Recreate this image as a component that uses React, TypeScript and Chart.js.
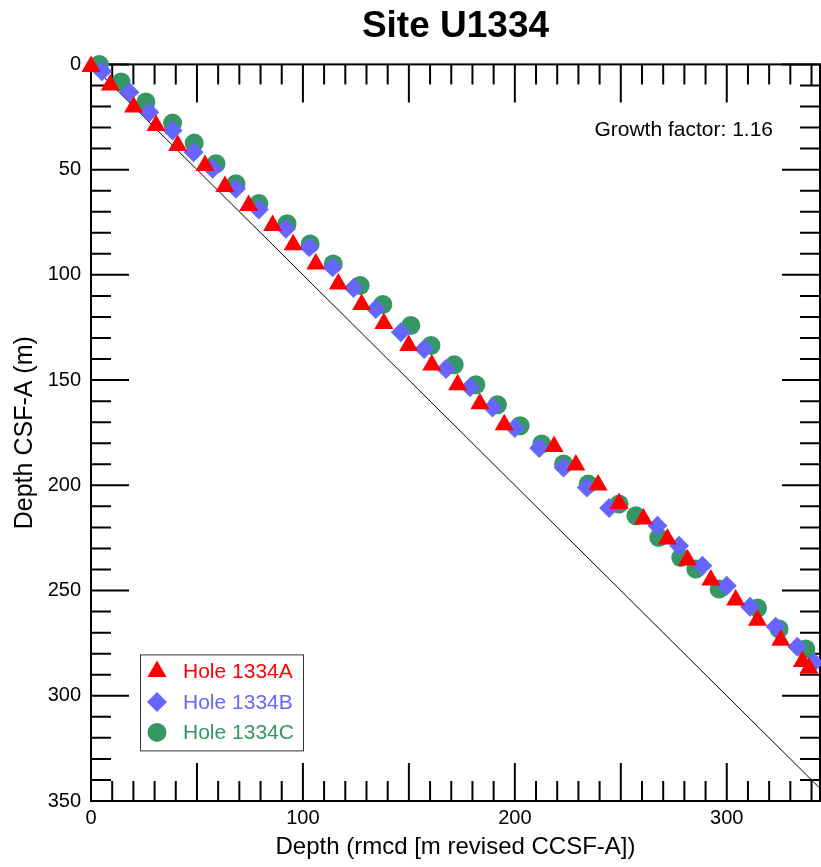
import React, { useEffect, useRef } from 'react';
import { Chart, registerables } from 'chart.js';
import { drawPoint } from 'chart.js/helpers';

Chart.register(...registerables);

const FONT = '"Liberation Sans", Arial, Helvetica, sans-serif';

const TITLE = 'Site U1334';
const X_TITLE = 'Depth (rmcd [m revised CCSF-A])';
const Y_TITLE = 'Depth CSF-A (m)';
const ANNOTATION = 'Growth factor: 1.16';

const SERIES_NAMES = ['Hole 1334A', 'Hole 1334B', 'Hole 1334C'];
const SERIES_COLORS = ['#ff0000', '#6666ff', '#349764'];

// Hole 1334A: revised composite depth (x) vs CSF-A depth (y)
const holeA_rmcd = [0, 9.1, 20.1, 30.7, 40.9, 53.8, 63.2, 74.4, 85.7, 95.4, 106.1, 116.7, 127.7, 138.2, 149.9, 160.8, 173.0, 183.5, 195.0, 218.5, 228.8, 239.3, 249.2, 260.7, 272.0, 281.5, 292.5, 304.2, 314.5, 325.5, 335.7, 338.8];
const holeA_csf = [1, 9.8, 20.3, 29.0, 38.5, 48.0, 58.0, 67.0, 76.6, 85.7, 94.8, 104.3, 114.1, 123.1, 133.6, 142.8, 152.2, 161.3, 171.2, 181.6, 190.3, 199.9, 208.6, 216.0, 225.5, 235.5, 245.0, 254.5, 264.1, 273.6, 283.7, 286.9];

// Hole 1334B
const holeB_rmcd = [5.2, 18.1, 27.5, 38.5, 48.4, 57.4, 68.4, 79.2, 92.0, 103.0, 114.0, 123.9, 134.4, 146.2, 157.2, 167.5, 178.9, 189.5, 200.0, 211.5, 223.0, 234.0, 244.5, 267.3, 277.5, 288.5, 300.0, 311.0, 323.1, 333.3, 341.2];
const holeB_csf = [3.3, 13.2, 22.7, 31.4, 41.7, 49.6, 59.1, 68.9, 78.1, 86.9, 96.4, 106.2, 116.2, 127.3, 135.2, 144.7, 153.4, 163.0, 172.8, 182.3, 191.5, 201.0, 210.8, 219.2, 228.7, 238.2, 247.7, 257.7, 267.2, 276.7, 284.2];

// Hole 1334C
const holeC_rmcd = [3.9, 14.2, 25.9, 38.5, 48.7, 59.0, 68.4, 79.2, 92.5, 103.4, 114.3, 127.0, 137.7, 150.9, 160.4, 171.4, 181.6, 191.8, 202.5, 212.7, 223.0, 234.6, 249.2, 257.1, 267.9, 278.3, 285.4, 296.4, 314.5, 324.7, 337.3];
const holeC_csf = [0, 8.4, 17.9, 27.9, 37.4, 47.2, 56.7, 66.1, 75.7, 85.3, 94.8, 105.1, 114.1, 124.1, 133.6, 142.7, 152.2, 161.7, 171.7, 180.4, 189.9, 199.4, 208.9, 214.5, 224.8, 234.3, 239.8, 249.3, 258.3, 268.3, 277.8];

// 1:1 reference line
const ONE_TO_ONE = [0, 350];

const X_MIN = 0;
const X_MAX = 344;
const Y_MIN = 0;
const Y_MAX = 350;
const X_LABEL_STEP = 100;
const Y_LABEL_STEP = 50;
const MINOR_STEP = 10;
const MAJOR_STEP = 50;

const pts = (xs: number[], ys: number[]) => xs.map((x, i) => ({ x, y: ys[i] }));

const frameTicksPlugin = {
  id: 'frameTicks',
  beforeDatasetsDraw(chart: any) {
    const { ctx, chartArea: a, scales } = chart;
    const xs = scales.x;
    const ys = scales.y;
    ctx.save();
    ctx.strokeStyle = '#000';
    ctx.lineWidth = 2;
    ctx.strokeRect(a.left, a.top, a.right - a.left, a.bottom - a.top);
    ctx.beginPath();
    for (let v = X_MIN; v <= X_MAX; v += MINOR_STEP) {
      const px = xs.getPixelForValue(v);
      const len = v % MAJOR_STEP === 0 ? 38 : 20;
      ctx.moveTo(px, a.top);
      ctx.lineTo(px, a.top + len);
      ctx.moveTo(px, a.bottom);
      ctx.lineTo(px, a.bottom - len);
    }
    for (let v = Y_MIN; v <= Y_MAX; v += MINOR_STEP) {
      const py = ys.getPixelForValue(v);
      const len = v % MAJOR_STEP === 0 ? 38 : 20;
      ctx.moveTo(a.left, py);
      ctx.lineTo(a.left + len, py);
      ctx.moveTo(a.right, py);
      ctx.lineTo(a.right - len, py);
    }
    ctx.stroke();
    ctx.restore();
  },
  afterDatasetsDraw(chart: any) {
    const { ctx, chartArea: a } = chart;
    ctx.save();
    // annotation
    ctx.font = `21px ${FONT}`;
    ctx.fillStyle = '#000';
    ctx.textAlign = 'right';
    ctx.textBaseline = 'middle';
    ctx.fillText(ANNOTATION, a.right - 47, a.top + 66);

    // legend box
    const bx = a.left + 49;
    const by = a.top + 590;
    const bw = 163;
    const bh = 96;
    ctx.fillStyle = '#fff';
    ctx.fillRect(bx, by, bw, bh);
    ctx.strokeStyle = '#333';
    ctx.lineWidth = 1;
    ctx.strokeRect(bx + 0.5, by + 0.5, bw, bh);
    const items = chart.data.datasets.slice(0, 3);
    items.forEach((ds: any, i: number) => {
      const cy = by + 17 + i * 30.5;
      ctx.fillStyle = ds.backgroundColor;
      drawPoint(ctx, { pointStyle: ds.pointStyle, radius: ds.pointRadius, rotation: 0, borderWidth: 0 }, bx + 17, cy);
      ctx.fillStyle = ds.backgroundColor;
      ctx.font = `21px ${FONT}`;
      ctx.textAlign = 'left';
      ctx.textBaseline = 'middle';
      ctx.fillText(ds.label, bx + 43, cy + 1);
    });
    ctx.restore();
  },
};

export default function App() {
  const ref = useRef<HTMLCanvasElement | null>(null);
  useEffect(() => {
    if (!ref.current) return;
    Chart.defaults.font.family = FONT;
    Chart.defaults.color = '#000';
    const chart = new Chart(ref.current, {
      type: 'scatter',
      data: {
        datasets: [
          {
            label: SERIES_NAMES[0],
            data: pts(holeA_rmcd, holeA_csf),
            pointStyle: 'triangle',
            pointRadius: 11,
            backgroundColor: SERIES_COLORS[0],
            borderWidth: 0,
            clip: false,
          } as any,
          {
            label: SERIES_NAMES[1],
            data: pts(holeB_rmcd, holeB_csf),
            pointStyle: 'rectRot',
            pointRadius: 10,
            backgroundColor: SERIES_COLORS[1],
            borderWidth: 0,
            clip: false,
          },
          {
            label: SERIES_NAMES[2],
            data: pts(holeC_rmcd, holeC_csf),
            pointStyle: 'circle',
            pointRadius: 9.5,
            backgroundColor: SERIES_COLORS[2],
            borderWidth: 0,
            clip: false,
          },
          {
            label: '1:1',
            data: pts(ONE_TO_ONE, ONE_TO_ONE),
            showLine: true,
            borderColor: '#000',
            borderWidth: 1,
            pointRadius: 0,
            clip: 0,
          },
        ],
      },
      options: {
        animation: false,
        responsive: false,
        devicePixelRatio: 1,
        layout: { autoPadding: false, padding: { top: 0, right: 1, bottom: 0, left: 0 } },
        plugins: {
          legend: { display: false },
          tooltip: { enabled: false },
          title: {
            display: true,
            text: TITLE,
            fullSize: false,
            color: '#000',
            font: { size: 37, weight: 'bold', family: FONT },
            padding: { top: 5, bottom: 15 },
          },
        },
        scales: {
          x: {
            type: 'linear',
            position: 'bottom',
            min: X_MIN,
            max: X_MAX,
            afterFit: (s: any) => { s.height = 66; s.paddingLeft = 0; s.paddingRight = 0; },
            grid: { display: false, drawTicks: false },
            border: { display: false },
            ticks: {
              stepSize: X_LABEL_STEP,
              autoSkip: false,
              maxRotation: 0,
              padding: 5,
              color: '#000',
              font: { size: 20, family: FONT },
              callback: (v: any) => (Number(v) % X_LABEL_STEP === 0 ? String(v) : ''),
            },
            title: {
              display: true,
              text: X_TITLE,
              color: '#000',
              font: { size: 24, family: FONT },
              padding: { top: 0, bottom: 5 },
            },
          },
          y: {
            type: 'linear',
            reverse: true,
            min: Y_MIN,
            max: Y_MAX,
            afterFit: (s: any) => { s.width = 91; s.paddingTop = 0; s.paddingBottom = 0; },
            grid: { display: false, drawTicks: false },
            border: { display: false },
            ticks: {
              stepSize: Y_LABEL_STEP,
              autoSkip: false,
              padding: 10,
              color: '#000',
              font: { size: 20, family: FONT },
              callback: (v: any) => (Number(v) % Y_LABEL_STEP === 0 ? String(v) : ''),
            },
            title: {
              display: true,
              text: Y_TITLE,
              color: '#000',
              font: { size: 25, family: FONT },
              padding: { top: 10, bottom: 0 },
            },
          },
        },
      } as any,
      plugins: [frameTicksPlugin],
    });
    return () => chart.destroy();
  }, []);
  return (
    <div style={{ position: 'absolute', left: 0, top: 0, width: 821, height: 867 }}>
      <canvas ref={ref} width={821} height={867} style={{ display: 'block' }} />
    </div>
  );
}
